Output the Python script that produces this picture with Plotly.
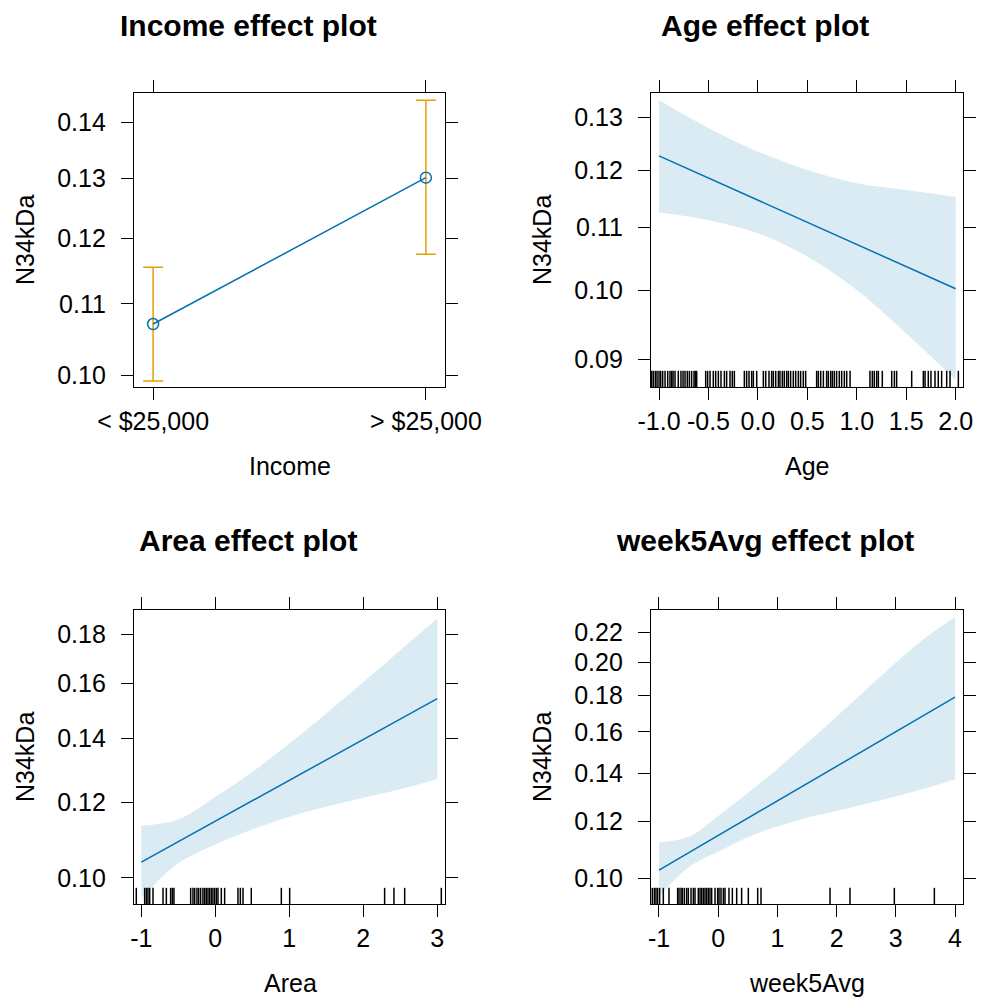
import math
import plotly.graph_objects as go

# ---------------- data ----------------
income_levels = ["< $25,000", "> $25,000"]
income_fit = [0.1071, 0.1301]
income_lower = [0.0993, 0.1175]
income_upper = [0.1155, 0.1442]

age_line_x = [-1.0, 2.0]
age_fit = [0.1226, 0.1002]
age_band_x = [-1.0, -0.5, 0.0, 0.5, 1.0, 1.5, 2.0]
age_upper = [0.1334, 0.1279, 0.1234, 0.1200, 0.1176, 0.1164, 0.1152]
age_lower = [0.1125, 0.1112, 0.1090, 0.1052, 0.1000, 0.0936, 0.0872]
age_rug = [-1.074, -1.057, -1.037, -1.020, -1.000, -0.983, -0.963, -0.939, -0.912,
           -0.889, -0.872, -0.858, -0.838, -0.805, -0.778, -0.757, -0.737, -0.714,
           -0.693, -0.670, -0.646, -0.633, -0.619, -0.528, -0.508, -0.484, -0.451,
           -0.427, -0.400, -0.373, -0.339, -0.316, -0.282, -0.259, -0.238, -0.137,
           -0.114, -0.090, -0.063, -0.046, -0.012, 0.055, 0.079, 0.112, 0.139, 0.156,
           0.180, 0.207, 0.223, 0.247, 0.267, 0.291, 0.308, 0.331, 0.358, 0.382,
           0.409, 0.432, 0.459, 0.483, 0.594, 0.611, 0.635, 0.662, 0.695, 0.712,
           0.736, 0.753, 0.773, 0.796, 0.823, 0.847, 0.874, 0.898, 0.932, 1.133,
           1.157, 1.177, 1.201, 1.218, 1.258, 1.353, 1.380, 1.403, 1.555, 1.673,
           1.690, 1.723, 1.750, 1.791, 1.824, 1.858, 1.909, 1.943, 2.027]

area_line_x = [-1.0, 3.0]
area_fit = [0.1039, 0.1541]
area_band_x = [-1.0, -0.5, 0.0, 0.5, 1.0, 1.5, 2.0, 2.5, 3.0]
area_upper = [0.1134, 0.1151, 0.1216, 0.1291, 0.1383, 0.1487, 0.1604, 0.1732, 0.1869]
area_lower = [0.0953, 0.1036, 0.1084, 0.1124, 0.1159, 0.1187, 0.1213, 0.1238, 0.1269]
area_rug = [-1.068, -0.955, -0.932, -0.910, -0.887, -0.842, -0.707, -0.662, -0.604,
            -0.581, -0.559, -0.333, -0.302, -0.279, -0.248, -0.225, -0.198, -0.167,
            -0.144, -0.122, -0.099, -0.077, -0.054, -0.032, -0.009, 0.014, 0.036,
            0.081, 0.126, 0.306, 0.338, 0.374, 0.486, 0.892, 1.005, 2.288, 2.414,
            2.559, 3.054]

week_line_x = [-1.0, 4.0]
week_fit = [0.1026, 0.1788]
week_band_x = [-1.0, -0.5, 0.0, 0.5, 1.0, 1.5, 2.0, 2.5, 3.0, 3.5, 4.0]
week_upper = [0.1121, 0.1142, 0.1221, 0.1314, 0.1420, 0.1543, 0.1681, 0.1832, 0.1998, 0.2165, 0.2312]
week_lower = [0.0942, 0.1035, 0.1088, 0.1140, 0.1180, 0.1214, 0.1240, 0.1270, 0.1300, 0.1334, 0.1374]
week_rug = [-1.113, -1.079, -1.051, -1.023, -0.989, -0.927, -0.831, -0.685, -0.662,
            -0.628, -0.606, -0.572, -0.533, -0.505, -0.459, -0.420, -0.392, -0.336,
            -0.307, -0.279, -0.251, -0.223, -0.195, -0.167, -0.139, -0.110, -0.054,
            -0.009, 0.014, 0.047, 0.087, 0.115, 0.182, 0.239, 0.312, 0.396, 0.509,
            0.667, 0.723, 1.889, 2.226, 2.975, 3.651]

y_ticks_income = [0.10, 0.11, 0.12, 0.13, 0.14]
y_ticks_age = [0.09, 0.10, 0.11, 0.12, 0.13]
y_ticks_area = [0.10, 0.12, 0.14, 0.16, 0.18]
y_ticks_week = [0.10, 0.12, 0.14, 0.16, 0.18, 0.20, 0.22]
x_ticks_age = [-1.0, -0.5, 0.0, 0.5, 1.0, 1.5, 2.0]
x_ticks_area = [-1, 0, 1, 2, 3]
x_ticks_week = [-1, 0, 1, 2, 3, 4]

titles = ["Income effect plot", "Age effect plot", "Area effect plot", "week5Avg effect plot"]
x_titles = ["Income", "Age", "Area", "week5Avg"]
y_title = "N34kDa"

# ---------------- style ----------------
PAGE_OFF = 8            # default body margin of the html page
W, H = 988 - PAGE_OFF, 997 - PAGE_OFF
FONT = "Liberation Sans, Arial, Helvetica, sans-serif"
BLUE = "#0072B2"
ORANGE = "#E69F00"
BAND = "rgba(0,114,178,0.14)"


def px_x(p):
    return (p - PAGE_OFF) / W


def px_y(p):
    return 1 - (p - PAGE_OFF) / H


# panel boxes in page pixels: (left, right, top, bottom)
boxes = [(134, 445, 93, 387), (651, 963, 93, 387), (134, 445, 610, 904), (651, 963, 610, 904)]

fig = go.Figure()

# ---- Income panel ----
fig.add_trace(go.Scatter(
    x=income_levels, y=income_fit, mode="lines+markers",
    line=dict(color=BLUE, width=1.5),
    marker=dict(symbol="circle-open", size=11, color=BLUE, line=dict(width=1.5, color=BLUE)),
    error_y=dict(type="data", symmetric=False,
                 array=[u - f for u, f in zip(income_upper, income_fit)],
                 arrayminus=[f - l for f, l in zip(income_fit, income_lower)],
                 color=ORANGE, thickness=1.5, width=10),
    xaxis="x", yaxis="y", showlegend=False, hoverinfo="skip"))


def add_cont(band_x, upper, lower, line_x, fit, rug, xa, ya, yrug):
    fig.add_trace(go.Scatter(
        x=band_x, y=lower, mode="lines", line=dict(width=0, shape="spline", color="rgba(0,0,0,0)"),
        xaxis=xa, yaxis=ya, showlegend=False, hoverinfo="skip"))
    fig.add_trace(go.Scatter(
        x=band_x, y=upper, mode="lines", fill="tonexty", fillcolor=BAND,
        line=dict(width=0, shape="spline", color="rgba(0,0,0,0)"),
        xaxis=xa, yaxis=ya, showlegend=False, hoverinfo="skip"))
    fig.add_trace(go.Scatter(
        x=line_x, y=fit, mode="lines", line=dict(color=BLUE, width=1.5),
        xaxis=xa, yaxis=ya, showlegend=False, hoverinfo="skip"))
    rx, ry = [], []
    for v in rug:
        rx += [v, v, None]
        ry += [0, 0.055, None]
    fig.add_trace(go.Scatter(
        x=rx, y=ry, mode="lines", line=dict(color="black", width=1.5),
        xaxis=xa, yaxis=yrug, showlegend=False, hoverinfo="skip"))


add_cont(age_band_x, age_upper, age_lower, age_line_x, age_fit, age_rug, "x2", "y2", "y5")
add_cont(area_band_x, area_upper, area_lower, area_line_x, area_fit, area_rug, "x3", "y3", "y6")
add_cont(week_band_x, week_upper, week_lower, week_line_x, week_fit, week_rug, "x4", "y4", "y7")

axis_common = dict(
    showline=True, linecolor="black", linewidth=1.2, mirror="ticks",
    ticks="outside", ticklen=12, tickwidth=1.2, tickcolor="black",
    showgrid=False, zeroline=False, automargin=False,
    tickfont=dict(family=FONT, size=25, color="black"),
)


def yax(dom, ticks, lo, hi, anchor):
    return dict(axis_common, type="log", domain=dom, anchor=anchor,
                range=[math.log10(lo), math.log10(hi)],
                tickvals=ticks, ticktext=["%.2f" % t for t in ticks],
                ticklabelstandoff=10)


def xax(dom, anchor, rng=None, ticks=None, ticktext=None):
    d = dict(axis_common, domain=dom, anchor=anchor, ticklabelstandoff=0)
    if rng is not None:
        d["range"] = rng
    if ticks is not None:
        d["tickvals"] = ticks
        d["ticktext"] = ticktext
    return d


xd = [[px_x(b[0]), px_x(b[1])] for b in boxes]
yd = [[px_y(b[3]), px_y(b[2])] for b in boxes]

fig.update_layout(
    xaxis=xax(xd[0], "y", [-0.07, 1.07]),
    yaxis=yax(yd[0], y_ticks_income, 0.0985, 0.1456, "x"),
    xaxis2=xax(xd[1], "y2", [-1.081, 2.074], x_ticks_age, ["%.1f" % t for t in x_ticks_age]),
    yaxis2=yax(yd[1], y_ticks_age, 0.0863, 0.1349, "x2"),
    xaxis3=xax(xd[2], "y3", [-1.099, 3.104], x_ticks_area, [str(t) for t in x_ticks_area]),
    yaxis3=yax(yd[2], y_ticks_area, 0.0939, 0.1908, "x3"),
    xaxis4=xax(xd[3], "y4", [-1.135, 4.135], x_ticks_week, [str(t) for t in x_ticks_week]),
    yaxis4=yax(yd[3], y_ticks_week, 0.0920, 0.2366, "x4"),
    yaxis5=dict(overlaying="y2", anchor="x2", range=[0, 1], visible=False, automargin=False),
    yaxis6=dict(overlaying="y3", anchor="x3", range=[0, 1], visible=False, automargin=False),
    yaxis7=dict(overlaying="y4", anchor="x4", range=[0, 1], visible=False, automargin=False),
)

# titles, axis titles
ann = []
title_pos = [(248, 25), (765, 25), (248, 540), (765, 540)]
for t, (x, y) in zip(titles, title_pos):
    ann.append(dict(text="<b>%s</b>" % t, x=px_x(x), y=px_y(y), xref="paper", yref="paper",
                    xanchor="center", yanchor="middle", showarrow=False, borderpad=0,
                    font=dict(family=FONT, size=30, color="black")))
xt_pos = [(290, 466), (807, 466), (290, 983), (807, 983)]
for t, (x, y) in zip(x_titles, xt_pos):
    ann.append(dict(text=t, x=px_x(x), y=px_y(y), xref="paper", yref="paper",
                    xanchor="center", yanchor="middle", showarrow=False,
                    font=dict(family=FONT, size=25, color="black")))
yt_pos = [(25, 240), (542, 240), (25, 757), (542, 757)]
for (x, y) in yt_pos:
    ann.append(dict(text=y_title, x=px_x(x), y=px_y(y), xref="paper", yref="paper",
                    xanchor="center", yanchor="middle", textangle=-90, showarrow=False,
                    font=dict(family=FONT, size=25, color="black")))

fig.update_layout(
    annotations=ann,
    width=W, height=H,
    margin=dict(l=0, r=0, t=0, b=0, autoexpand=False),
    paper_bgcolor="white", plot_bgcolor="white",
    font=dict(family=FONT, color="black"),
    showlegend=False,
)

fig.write_html("out.html", config={"displayModeBar": False})
